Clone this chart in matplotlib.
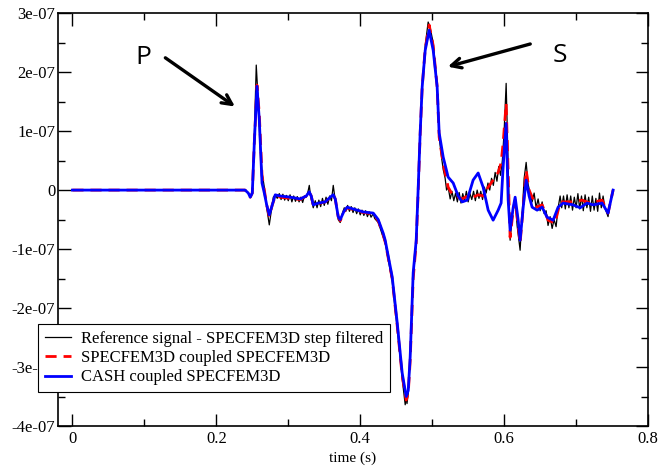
import numpy as np
from matplotlib import pyplot as plt
from matplotlib.ticker import MultipleLocator

# amplitudes in units of 1e-07
t_ref = [0.0, 0.24, 0.2444, 0.2472, 0.25, 0.2528, 0.2555, 0.2583, 0.261, 0.2635, 0.2667, 0.27, 0.2736, 0.2764,
         0.2792, 0.282, 0.2847, 0.2875, 0.29, 0.2925, 0.295, 0.2975, 0.3, 0.3025, 0.305, 0.3075, 0.31, 0.3125,
         0.315, 0.3175, 0.32, 0.3225, 0.325, 0.3275, 0.3292, 0.331, 0.3347, 0.3375, 0.34, 0.3425, 0.345, 0.3475,
         0.35, 0.3525, 0.355, 0.3575, 0.36, 0.3625, 0.365, 0.3694, 0.3722, 0.375, 0.3778, 0.38, 0.3825, 0.385,
         0.3875, 0.39, 0.3925, 0.395, 0.3975, 0.4, 0.4025, 0.405, 0.4075, 0.41, 0.4125, 0.415, 0.4181, 0.42,
         0.425, 0.4319, 0.4347, 0.4444, 0.4514, 0.4583, 0.4625, 0.4639, 0.465, 0.4667, 0.4694, 0.4736, 0.4778,
         0.4806, 0.4833, 0.4861, 0.4903, 0.4944, 0.4972, 0.5014, 0.5069, 0.5097, 0.5125, 0.5153, 0.518, 0.52,
         0.5222, 0.525, 0.5275, 0.53, 0.5325, 0.535, 0.5375, 0.54, 0.5425, 0.545, 0.5475, 0.55, 0.5525, 0.555,
         0.5575, 0.56, 0.5625, 0.565, 0.5675, 0.57, 0.5725, 0.575, 0.5775, 0.58, 0.5825, 0.585, 0.5875, 0.59,
         0.5925, 0.595, 0.5975, 0.6, 0.6028, 0.6056, 0.6083, 0.611, 0.6125, 0.6153, 0.618, 0.6222, 0.625, 0.6278,
         0.6306, 0.6333, 0.636, 0.6389, 0.6417, 0.6444, 0.6472, 0.65, 0.6528, 0.6556, 0.6583, 0.661, 0.6639,
         0.6667, 0.6694, 0.6722, 0.675, 0.6778, 0.68, 0.6825, 0.685, 0.6875, 0.69, 0.6925, 0.695, 0.6975, 0.7,
         0.7025, 0.705, 0.7075, 0.71, 0.7125, 0.715, 0.7175, 0.72, 0.7225, 0.725, 0.7275, 0.73, 0.7325, 0.735,
         0.7375, 0.74, 0.7444, 0.7475, 0.7514]
y_ref = [0.0, 0.0, -0.05, -0.12, -0.05, 0.9, 2.12, 1.5, 0.7, 0.3, 0.05, -0.3, -0.59, -0.35,
         -0.12, -0.08, -0.14, -0.06, -0.16, -0.07, -0.17, -0.09, -0.18, -0.08, -0.2, -0.1, -0.19, -0.11,
         -0.2, -0.12, -0.21, -0.1, -0.12, -0.02, 0.08, -0.1, -0.3, -0.18, -0.3, -0.17, -0.28, -0.14,
         -0.26, -0.12, -0.24, -0.1, -0.18, 0.08, -0.15, -0.5, -0.55, -0.4, -0.3, -0.36, -0.26, -0.36,
         -0.28, -0.38, -0.3, -0.4, -0.32, -0.42, -0.34, -0.43, -0.35, -0.45, -0.37, -0.46, -0.4, -0.48,
         -0.55, -0.8, -0.9, -1.55, -2.35, -3.2, -3.64, -3.5, -3.62, -3.45, -2.9, -1.5, -0.9,
         0.0, 0.95, 1.8, 2.45, 2.85, 2.75, 2.5, 1.8, 0.9, 0.6, 0.35, 0.2, 0.0,
         0.05, -0.15, -0.02, -0.18, -0.05, -0.2, -0.04, -0.22, -0.06, -0.18, -0.02, -0.2, -0.06, -0.16,
         -0.02, -0.18, 0.0, -0.14, -0.02, -0.16, 0.05, -0.05, 0.12, 0.0, 0.2, 0.08, 0.3, 0.15,
         0.4, 0.25, 0.5, 1.0, 1.81, 0.4, -0.85, -0.5, -0.3, -0.15, -0.6, -1.02, -0.4, 0.2,
         0.47, 0.1, -0.05, -0.2, -0.05, -0.3, -0.15, -0.35, -0.2, -0.4, -0.35, -0.6, -0.45,
         -0.65, -0.5, -0.62, -0.3, -0.1, -0.3, -0.1, -0.32, -0.08, -0.3, -0.1, -0.34, -0.12, -0.3,
         -0.06, -0.32, -0.1, -0.35, -0.08, -0.3, -0.12, -0.36, -0.1, -0.34, -0.14, -0.36, -0.05, -0.3,
         -0.1, -0.3, -0.45, -0.2, 0.0]

t_sem = [0.0, 0.24, 0.2444, 0.2472, 0.25, 0.2528, 0.2565, 0.2597, 0.2635, 0.2667, 0.27, 0.2736, 0.2778,
         0.2819, 0.2889, 0.3028, 0.3167, 0.325, 0.3292, 0.3319, 0.3347, 0.3417, 0.3514, 0.3583, 0.3625,
         0.3653, 0.3694, 0.3722, 0.3778, 0.3819, 0.3931, 0.4042, 0.4181, 0.425, 0.4319, 0.4347, 0.4444,
         0.4514, 0.4583, 0.4639, 0.4667, 0.4694, 0.4736, 0.4778, 0.4806, 0.4833, 0.4861, 0.4903, 0.4958,
         0.5014, 0.5069, 0.5097, 0.5153, 0.5222, 0.5292, 0.5361, 0.5417, 0.5486, 0.5569, 0.5639, 0.5708,
         0.5778, 0.5847, 0.5917, 0.5958, 0.5986, 0.6028, 0.6056, 0.6083, 0.6125, 0.6153, 0.6194, 0.6222,
         0.6264, 0.6306, 0.6347, 0.6389, 0.6458, 0.6528, 0.6611, 0.6708, 0.6778, 0.6958, 0.7083, 0.7194,
         0.7361, 0.7444, 0.7514]
y_sem = [0.0, 0.0, -0.05, -0.12, -0.05, 0.8, 1.78, 1.3, 0.25, 0.0, -0.25, -0.45, -0.25,
         -0.1, -0.12, -0.14, -0.16, -0.1, -0.03, -0.1, -0.26, -0.23, -0.2, -0.13, -0.08,
         -0.15, -0.45, -0.52, -0.36, -0.3, -0.34, -0.38, -0.4, -0.52, -0.76, -0.88, -1.5,
         -2.3, -3.15, -3.56, -3.45, -2.9, -1.5, -0.9, 0.0, 0.95, 1.75, 2.4, 2.8,
         2.45, 1.75, 0.9, 0.45, 0.05, -0.1, -0.12, -0.15, -0.1, -0.12, -0.08, -0.1,
         0.05, 0.17, 0.3, 0.46, 0.8, 1.47, 0.3, -0.8, -0.35, -0.17, -0.6, -0.9,
         -0.3, 0.34, 0.0, -0.12, -0.29, -0.25, -0.51, -0.56, -0.2, -0.2, -0.17, -0.22,
         -0.17, -0.39, 0.0]

t_cash = [0.0, 0.24, 0.2444, 0.2472, 0.25, 0.2528, 0.2565, 0.2597, 0.2635, 0.2667, 0.27, 0.2736, 0.2778,
          0.2819, 0.2889, 0.3028, 0.3167, 0.325, 0.3292, 0.3319, 0.3347, 0.3417, 0.3514, 0.3583, 0.3625,
          0.3653, 0.3694, 0.3722, 0.3778, 0.3819, 0.3931, 0.4042, 0.4181, 0.425, 0.4319, 0.4347, 0.4444,
          0.4514, 0.4583, 0.4639, 0.4667, 0.4694, 0.4736, 0.4778, 0.4806, 0.4833, 0.4861, 0.4903, 0.4958,
          0.5014, 0.5069, 0.5097, 0.5153, 0.5222, 0.5292, 0.5361, 0.5417, 0.5486, 0.5569, 0.5639, 0.5708,
          0.5778, 0.5847, 0.5917, 0.5958, 0.5986, 0.6028, 0.6056, 0.6083, 0.6125, 0.6153, 0.6194, 0.6222,
          0.6264, 0.6306, 0.6347, 0.6389, 0.6458, 0.6528, 0.6597, 0.6681, 0.675, 0.6819, 0.6958, 0.7056,
          0.7153, 0.7236, 0.7361, 0.7444, 0.7514]
y_cash = [0.0, 0.0, -0.05, -0.12, -0.05, 0.8, 1.76, 1.2, 0.12, -0.05, -0.25, -0.42, -0.25,
          -0.08, -0.1, -0.12, -0.15, -0.1, -0.03, -0.1, -0.25, -0.22, -0.2, -0.12, -0.08,
          -0.15, -0.45, -0.5, -0.35, -0.29, -0.33, -0.37, -0.39, -0.5, -0.73, -0.85, -1.47,
          -2.25, -3.1, -3.5, -3.4, -2.83, -1.4, -0.85, 0.05, 0.97, 1.75, 2.37, 2.71,
          2.37, 1.75, 0.97, 0.56, 0.22, 0.12, -0.1, -0.2, -0.17, 0.17, 0.29, 0.05,
          -0.34, -0.51, -0.34, -0.22, 0.39, 1.13, -0.17, -0.68, -0.3, -0.12, -0.5, -0.85,
          -0.3, 0.17, -0.1, -0.29, -0.34, -0.29, -0.46, -0.51, -0.29, -0.22, -0.25, -0.3,
          -0.22, -0.25, -0.22, -0.39, 0.0]

yticks = [3, 2, 1, 0, -1, -2, -3, -4]
ytick_labels = ['3e-07', '2e-07', '1e-07', '0', '-1e-07', '-2e-07', '-3e-07', '-4e-07']
xticks = [0, 0.2, 0.4, 0.6, 0.8]
xtick_labels = ['0', '0.2', '0.4', '0.6', '0.8']

plt.rcParams['font.family'] = 'Liberation Serif'

fig = plt.figure(figsize=(6.6, 4.67), dpi=100)
ax = fig.add_axes([0.0879, 0.0878, 0.894, 0.884])

sc = 1e-7
ax.plot(t_ref, np.array(y_ref) * sc, color='black', lw=0.9, label='Reference signal - SPECFEM3D step filtered')
ax.plot(t_sem, np.array(y_sem) * sc, color='red', lw=2.0, dashes=(4, 2.5), label='SPECFEM3D coupled SPECFEM3D')
ax.plot(t_cash, np.array(y_cash) * sc, color='blue', lw=2.0, label='CASH coupled SPECFEM3D')

ax.set_xlim(-0.02, 0.8)
ax.set_ylim(-4e-7, 3e-7)
ax.set_xticks(xticks)
ax.set_xticklabels(xtick_labels)
ax.set_yticks([v * sc for v in yticks])
ax.set_yticklabels(ytick_labels)
ax.xaxis.set_minor_locator(MultipleLocator(0.1))
ax.yaxis.set_minor_locator(MultipleLocator(0.5e-7))
ax.tick_params(which='both', direction='in', top=True, right=True, labelsize=12, width=1)
ax.tick_params(axis='y', pad=2)
ax.tick_params(which='major', length=9)
ax.tick_params(which='minor', length=5)
for s in ax.spines.values():
    s.set_linewidth(1.2)
ax.set_xlabel('time (s)', fontsize=11, labelpad=3)

leg = ax.legend(loc='lower left', bbox_to_anchor=(38 / 660, (467 - 392) / 467), bbox_transform=fig.transFigure,
                fontsize=12, frameon=True, fancybox=False, framealpha=1, borderaxespad=0,
                handlelength=1.6, handletextpad=0.6, labelspacing=0.2, borderpad=0.4)
leg.get_frame().set_edgecolor('black')
leg.get_frame().set_linewidth(0.8)

ax.text(0.0986, 2.24e-7, 'P', family='Open Sans', fontsize=19, ha='center', va='center')
ax.annotate('', xy=(0.229, 1.39e-7), xytext=(0.126, 2.27e-7),
            arrowprops=dict(arrowstyle='->,head_length=0.7,head_width=0.35', lw=2.4, color='black'))
ax.text(0.678, 2.29e-7, 'S', family='Open Sans', fontsize=19, ha='center', va='center')
ax.annotate('', xy=(0.518, 2.08e-7), xytext=(0.640, 2.49e-7),
            arrowprops=dict(arrowstyle='->,head_length=0.7,head_width=0.35', lw=2.4, color='black'))

plt.savefig('out.png', dpi=100)
